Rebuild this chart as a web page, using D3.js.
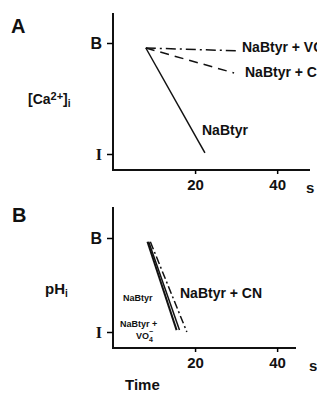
<!DOCTYPE html>
<html lang="en">
<head>
<meta charset="utf-8">
<title>Ca and pH traces</title>
<script src="https://cdn.jsdelivr.net/npm/d3@7"></script>
<style>
  body { margin: 0; background: #fff; }
  text { font-family: "Liberation Sans", Arial, sans-serif; font-weight: bold; fill: #111; }
</style>
</head>
<body>
<script>
// tick values and labels
var xTicks = [20, 40];
var yTickVals = [0, 1];
var yTickLabels = ["I", "B"];

// panel A: [Ca2+]i, time in s, level 0 = I, 1 = B
var caNaBtyrX = [8, 22.4];
var caNaBtyrY = [0.955, 0.01];
var caVO4X = [8, 30.2];
var caVO4Y = [0.955, 0.93];
var caCNX = [8, 29.5];
var caCNY = [0.955, 0.73];

// panel B: pHi
var phNaBtyrX = [8.4, 15.5];
var phNaBtyrY = [0.96, 0.02];
var phVO4X = [8.7, 16.2];
var phVO4Y = [0.96, 0.02];
var phCNX = [9.1, 18];
var phCNY = [0.96, 0.0];

var w = 317, h = 397;
var svg = d3.select("body").append("svg").attr("width", w).attr("height", h);

function panel(opt) {
  var g = svg.append("g");
  var x = d3.scaleLinear().domain([0, opt.xMax]).range([113, opt.xEnd]);
  var y = d3.scaleLinear().domain([0, 1]).range([opt.yI, opt.yB]);

  // axis lines
  g.append("line").attr("x1", 113).attr("x2", 113).attr("y1", opt.top).attr("y2", opt.base)
    .attr("stroke", "#111").attr("stroke-width", 2);
  g.append("line").attr("x1", 112).attr("x2", opt.xEnd).attr("y1", opt.base).attr("y2", opt.base)
    .attr("stroke", "#111").attr("stroke-width", 2);

  var xa = g.append("g").attr("transform", "translate(0," + opt.base + ")")
    .call(d3.axisBottom(x).tickValues(xTicks).tickSize(4).tickPadding(5));
  xa.select(".domain").remove();
  xa.selectAll("line").attr("stroke-width", 1.5);
  xa.selectAll("text").style("font-size", "15px").attr("fill", "#111");

  var ya = g.append("g").attr("transform", "translate(113,0)")
    .call(d3.axisLeft(y).tickValues(yTickVals).tickSize(6).tickPadding(5)
      .tickFormat(function(d, i) { return yTickLabels[i]; }));
  ya.select(".domain").remove();
  ya.selectAll("line").attr("stroke-width", 1.5);
  ya.selectAll("text").style("font-size", "16px").attr("fill", "#111")
    .style("font-family", function(d) { return d === 0 ? "'Liberation Serif', serif" : null; });

  g.append("text").attr("x", opt.sX).attr("y", opt.base + 23).style("font-size", "15px").text("s");

  var line = d3.line().x(function(d) { return x(d[0]); }).y(function(d) { return y(d[1]); });
  opt.series.forEach(function(s) {
    g.append("path").datum(d3.zip(s.xs, s.ys)).attr("d", line)
      .attr("fill", "none").attr("stroke", "#111").attr("stroke-width", s.sw || 1.5)
      .attr("stroke-dasharray", s.dash || null);
  });
  return g;
}

// Panel A
var gA = panel({ top: 13, base: 170, yI: 154, yB: 43, xMax: 48, xEnd: 310, sX: 306,
  series: [
    { xs: caNaBtyrX, ys: caNaBtyrY },
    { xs: caVO4X, ys: caVO4Y, dash: "10,4,2,4" },
    { xs: caCNX, ys: caCNY, dash: "9,6" }
  ] });
gA.append("text").attr("x", 11).attr("y", 33).style("font-size", "20px").text("A");
var caLab = gA.append("text").attr("x", 28).attr("y", 104).style("font-size", "14px");
caLab.append("tspan").text("[Ca");
caLab.append("tspan").attr("dy", -4).style("font-size", "11px").text("2+");
caLab.append("tspan").attr("dy", 4).text("]");
caLab.append("tspan").attr("dy", 3).style("font-size", "10px").text("i");
gA.append("text").attr("x", 242).attr("y", 52).style("font-size", "14px").text("NaBtyr + VO");
gA.append("text").attr("x", 245).attr("y", 77).style("font-size", "14px").text("NaBtyr + CN");
gA.append("text").attr("x", 202).attr("y", 135).style("font-size", "14px").text("NaBtyr");

// Panel B
var gB = panel({ top: 207, base: 348, yI: 332, yB: 238, xMax: 44.6, xEnd: 296, sX: 309,
  series: [
    { xs: phNaBtyrX, ys: phNaBtyrY, sw: 2 },
    { xs: phVO4X, ys: phVO4Y, sw: 1.5 },
    { xs: phCNX, ys: phCNY, dash: "8,3,2,3" }
  ] });
gB.append("text").attr("x", 12).attr("y", 222).style("font-size", "20px").text("B");
var phLab = gB.append("text").attr("x", 45).attr("y", 294).style("font-size", "15px");
phLab.append("tspan").text("pH");
phLab.append("tspan").attr("dy", 3).style("font-size", "10px").text("i");
gB.append("text").attr("x", 123).attr("y", 301).style("font-size", "9px").text("NaBtyr");
gB.append("text").attr("x", 120).attr("y", 327).style("font-size", "9px").text("NaBtyr +");
var vo = gB.append("text").attr("x", 136).attr("y", 339).style("font-size", "9px");
vo.append("tspan").text("VO");
vo.append("tspan").attr("dy", 3).style("font-size", "7px").text("4");
vo.append("tspan").attr("dx", -4).attr("dy", -8).style("font-size", "7px").text("\u2212");
gB.append("text").attr("x", 180).attr("y", 298).style("font-size", "14px").text("NaBtyr + CN");
gB.append("text").attr("x", 125).attr("y", 390).style("font-size", "15px").text("Time");
</script>
</body>
</html>
